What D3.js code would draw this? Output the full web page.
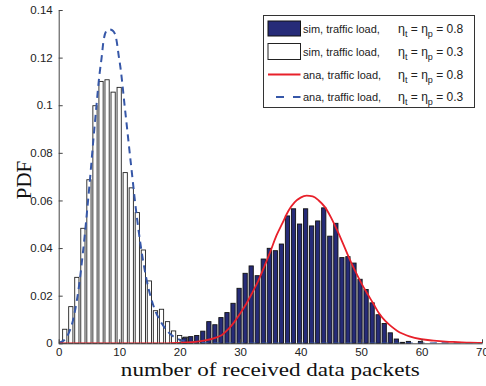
<!DOCTYPE html>
<html>
<head>
<meta charset="utf-8">
<script src="https://cdn.jsdelivr.net/npm/d3@7"></script>
<style>
  body { margin: 0; background: #fff; }
  svg { display: block; }
</style>
</head>
<body>
<svg></svg>
<script>
// histogram of simulated PDF, traffic load 0.3 (white bars)
const binsSim03 = [1,2,3,4,5,6,7,8,9,10,11,12,13,14,15,16,17,18,19,20,21];
const valsSim03 = [0.0059,0.0154,0.0277,0.0483,0.0687,0.0998,0.1100,0.1107,0.1055,0.1075,
                   0.0717,0.0653,0.0549,0.0392,0.0262,0.0137,0.0143,0.0091,0.0052,0.0033,0.0026];

// histogram of simulated PDF, traffic load 0.8 (blue bars)
const binsSim08 = [21,22,23,24,25,26,27,28,29,30,31,32,33,34,35,36,37,38,39,40,
                   41,42,43,44,45,46,47,48,49,50,51,52,53,54,55,56,57,58,60];
const valsSim08 = [0.0023,0.0028,0.0033,0.0051,0.0091,0.0078,0.0108,0.0129,0.0168,0.0231,
                   0.0294,0.0325,0.0284,0.0354,0.0399,0.0389,0.0417,0.0535,0.0565,0.0501,
                   0.0565,0.0493,0.0514,0.0569,0.0450,0.0504,0.0360,0.0364,0.0337,0.0269,
                   0.0226,0.0170,0.0120,0.0083,0.0044,0.0018,0.0004,0.0008,0.0008];

// analytical curve, traffic load 0.8
const anaX08 = [0,18,20,22,24,26,27,28,29,30,31,32,33,34,35,36,37,38,39,40,41,42,43,44,45,
                46,47,48,49,50,51,52,53,54,55,56,57,58,60,62,64,66,68,70];
const anaY08 = [0,0,0.0002,0.0005,0.0011,0.0024,0.0035,0.0058,0.0088,0.0125,0.0165,0.0212,0.0262,
                0.0322,0.0385,0.0452,0.0505,0.0557,0.0592,0.0612,0.0620,0.0617,0.0600,0.0573,
                0.0530,0.0477,0.0420,0.0360,0.0305,0.0255,0.0210,0.0168,0.0125,0.0094,0.0071,
                0.0052,0.0039,0.0029,0.0017,0.0011,0.0007,0.0005,0.0003,0.0002];

// analytical curve, traffic load 0.3
const anaX03 = [0,1,2,3,4,5,6,7,8,9,10,11,12,13,14,15,16,17,18,19,20,21,22,23,24,25,70];
const anaY03 = [0.0001,0.0015,0.0065,0.018,0.038,0.064,0.093,0.118,0.1315,0.1312,0.1195,0.0975,
                0.0740,0.0515,0.0340,0.0215,0.0135,0.0085,0.0050,0.0028,0.0015,0.0008,0.0004,
                0.0002,0.0001,0,0];

const xTicks = [0,10,20,30,40,50,60,70];
const yTicks = [0,0.02,0.04,0.06,0.08,0.1,0.12,0.14];

const legendLabels = ["sim, traffic load,", "sim, traffic load,", "ana, traffic load,", "ana, traffic load,"];
const legendLoads = ["0.8", "0.3", "0.8", "0.3"];

const width = 486, height = 386;
const margin = { top: 10, right: 4, bottom: 42.7, left: 58.7 };
const plotW = width - margin.left - margin.right;
const plotH = height - margin.top - margin.bottom;

const navy = "#262b78";
const red = "#e8202a";
const dashBlue = "#3657a8";

const svg = d3.select("svg").attr("width", width).attr("height", height);

const x = d3.scaleLinear().domain([0, 70]).range([0, plotW]);
const y = d3.scaleLinear().domain([0, 0.14]).range([plotH, 0]);

const g = svg.append("g").attr("transform", `translate(${margin.left},${margin.top})`);

g.append("clipPath").attr("id", "clip")
    .append("rect").attr("x", 0).attr("y", -2).attr("width", plotW).attr("height", plotH + 2);

const barW = x(0.7) - x(0);

// white bars
g.append("g").selectAll("rect")
    .data(binsSim03.map((b, i) => ({ b: b, v: valsSim03[i] })))
    .enter().append("rect")
    .attr("x", d => x(d.b) - barW / 2)
    .attr("y", d => y(d.v))
    .attr("width", barW)
    .attr("height", d => plotH - y(d.v))
    .attr("fill", "#fff")
    .attr("stroke", "#222")
    .attr("stroke-width", 0.9);

// blue bars (slightly left of integer bins in the original)
g.append("g").selectAll("rect")
    .data(binsSim08.map((b, i) => ({ b: b, v: valsSim08[i] })))
    .enter().append("rect")
    .attr("x", d => x(d.b - 0.17) - barW / 2)
    .attr("y", d => y(d.v))
    .attr("width", barW)
    .attr("height", d => plotH - y(d.v))
    .attr("fill", navy)
    .attr("stroke", "#111")
    .attr("stroke-width", 0.9);

const line = d3.line()
    .x(d => x(d[0]))
    .y(d => y(d[1]));

const curves = g.append("g").attr("clip-path", "url(#clip)");

curves.append("path")
    .datum(anaX03.map((v, i) => [v, anaY03[i]]))
    .attr("d", line.curve(d3.curveCatmullRom.alpha(0.5)))
    .attr("fill", "none")
    .attr("stroke", dashBlue)
    .attr("stroke-width", 2)
    .attr("stroke-dasharray", "7,5");

curves.append("path")
    .datum(anaX08.map((v, i) => [v, anaY08[i]]))
    .attr("d", line.curve(d3.curveMonotoneX))
    .attr("fill", "none")
    .attr("stroke", red)
    .attr("stroke-width", 1.8);

// axes
const xAxis = g.append("g")
    .attr("transform", `translate(0,${plotH})`)
    .call(d3.axisBottom(x).tickValues(xTicks).tickSize(-4).tickSizeOuter(0).tickPadding(5));
const yAxis = g.append("g")
    .call(d3.axisLeft(y).tickValues(yTicks).tickSize(-4).tickSizeOuter(0).tickPadding(6)
        .tickFormat(d => d === 0 ? "0" : String(+d.toFixed(2))));

[xAxis, yAxis].forEach(a => {
    a.selectAll("path, line").attr("stroke", "#444");
    a.selectAll("text")
        .attr("fill", "#222")
        .style("font-family", "'Liberation Sans', Arial, sans-serif")
        .style("font-size", "11.5px");
});

// axis titles
svg.append("text")
    .attr("x", margin.left + x(35))
    .attr("y", 376)
    .attr("text-anchor", "middle")
    .attr("textLength", 299)
    .attr("lengthAdjust", "spacingAndGlyphs")
    .style("font-family", "'Liberation Serif', 'Times New Roman', serif")
    .style("font-size", "19px")
    .attr("fill", "#111")
    .text("number of received data packets");

svg.append("text")
    .attr("transform", "translate(31,180) rotate(-90)")
    .attr("text-anchor", "middle")
    .style("font-family", "'Liberation Serif', 'Times New Roman', serif")
    .style("font-size", "21px")
    .attr("fill", "#111")
    .text("PDF");

// legend
const lg = svg.append("g");
lg.append("rect")
    .attr("x", 263.5).attr("y", 15.5)
    .attr("width", 211).attr("height", 92)
    .attr("fill", "#fff")
    .attr("stroke", "#333")
    .attr("stroke-width", 1);

const rowY = [28.5, 51.5, 74.5, 97];
const swL = 268, swR = 300.5;

lg.append("rect").attr("x", swL).attr("y", rowY[0] - 7.5).attr("width", swR - swL).attr("height", 15)
    .attr("fill", navy).attr("stroke", "#111");
lg.append("rect").attr("x", swL).attr("y", rowY[1] - 8).attr("width", swR - swL).attr("height", 16)
    .attr("fill", "#fff").attr("stroke", "#222");
lg.append("line").attr("x1", swL).attr("x2", swR).attr("y1", rowY[2]).attr("y2", rowY[2])
    .attr("stroke", red).attr("stroke-width", 1.8);
lg.append("line").attr("x1", swL + 8).attr("x2", swR).attr("y1", rowY[3]).attr("y2", rowY[3])
    .attr("stroke", dashBlue).attr("stroke-width", 2).attr("stroke-dasharray", "8,9");

legendLabels.forEach((lab, i) => {
    const t = lg.append("text")
        .attr("y", rowY[i] + 4)
        .style("font-family", "'Liberation Sans', Arial, sans-serif")
        .style("font-size", "11px")
        .attr("fill", "#222");
    t.append("tspan").attr("x", 303).text(lab);
    t.append("tspan").attr("x", 398).style("font-size", "12.5px").text("\u03b7");
    t.append("tspan").attr("dy", 4).style("font-size", "9px").text("t");
    t.append("tspan").attr("dy", -4).style("font-size", "12px").text(" = \u03b7");
    t.append("tspan").attr("dy", 4).style("font-size", "9px").text("p");
    t.append("tspan").attr("dy", -4).style("font-size", "12px").text(" = " + legendLoads[i]);
});
</script>
</body>
</html>
